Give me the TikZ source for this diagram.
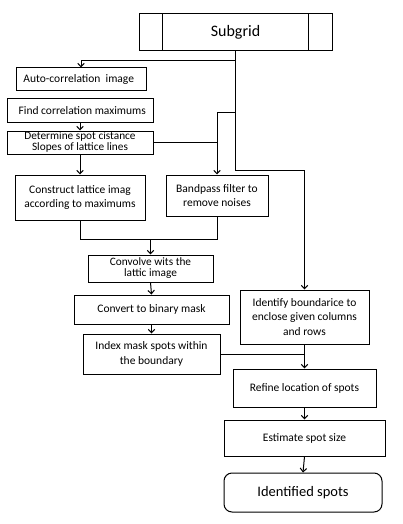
\documentclass[tikz,border=0pt]{standalone}
\usepackage{fontspec}
\setmainfont{Carlito}
\usetikzlibrary{arrows.meta,calc}
\begin{document}
\begin{tikzpicture}[x=1pt,y=-1pt,
  box/.style={draw,line width=1pt,inner sep=0pt,align=center,font=\fontsize{11.5}{14.5}\selectfont},
  tight/.style={font=\fontsize{11.3}{11}\selectfont},
  ln/.style={line width=1pt},
  arr/.style={ln,-{Straight Barb[length=3.5pt,width=6.5pt,line width=1pt]}}]
\useasboundingbox (0,0) rectangle (402,524);
\node[box,minimum width=193pt,minimum height=37pt,font=\fontsize{16}{18}\selectfont] (sub) at (235.5,32.5) {Subgrid};
\draw[ln] ([xshift=24pt]sub.north west) -- ([xshift=24pt]sub.south west);
\draw[ln] ([xshift=-24pt]sub.north east) -- ([xshift=-24pt]sub.south east);
\node[box,minimum width=130pt,minimum height=23pt] (auto) at (81,79.5) {Auto-correlation\ \ image\ \,};
\node[box,minimum width=146pt,minimum height=23pt] (find) at (80,110.5) {\ \,Find correlation maximums};
\node[box,tight,minimum width=146pt,minimum height=23pt] (det) at (80,142.5) {Determine spot cistance\\Slopes of lattice lines};
\node[box,minimum width=130pt,minimum height=45pt] (cons) at (80,197.5) {Construct lattice imag\\according to maximums};
\node[box,minimum width=102pt,minimum height=41pt] (band) at (217,195.5) {Bandpass filter to\\remove noises};
\node[box,tight,minimum width=125pt,minimum height=27pt] (conv) at (150.5,268.5) {Convolve wits the\\lattic image};
\node[box,minimum width=155pt,minimum height=29pt] (convert) at (151.5,309.5) {Convert to binary mask};
\node[box,minimum width=137pt,minimum height=40pt] (index) at (151.5,354) {Index mask spots within\\the boundary};
\node[box,minimum width=129pt,minimum height=54pt] (ident) at (304.5,317) {Identify boundarice to\\enclose given columns\\and rows};
\node[box,minimum width=143pt,minimum height=38pt] (refine) at (304.5,388) {Refine location of spots};
\node[box,minimum width=161pt,minimum height=36pt] (est) at (304.5,438) {Estimate spot size};
\node[box,rounded corners=8pt,minimum width=158pt,minimum height=39pt,font=\fontsize{14.5}{16}\selectfont] (spots) at (303,492.5) {Identified spots};
\coordinate (j1) at (235.5,113);
\coordinate (j2) at (150.5,239);
% connectors
\draw[arr] (sub.south) -- ++(0,9) -| (auto.north);
\draw[arr] (sub.south) -- ++(0,119) -| (ident.north);
\draw[arr] (j1) -| (band.north);
\draw[ln] (det.east) -- (det.east -| band.north);
\draw[arr] (find.south) -- (det.north);
\draw[arr] (det.south) -- (cons.north);
\draw[ln] (cons.south) |- (band.south |- j2) -- (band.south);
\draw[arr] (j2) -- (conv.north);
\draw[arr] (conv.south) -- (convert.north);
\draw[arr] (convert.south) -- (index.north);
\draw[arr] (ident.south) -- (refine.north);
\draw[ln] (index.east) -- (index.east -| refine.north);
\draw[arr] (refine.south) -- (est.north);
\draw[arr] (est.south) -- (spots.north);
\end{tikzpicture}
\end{document}
